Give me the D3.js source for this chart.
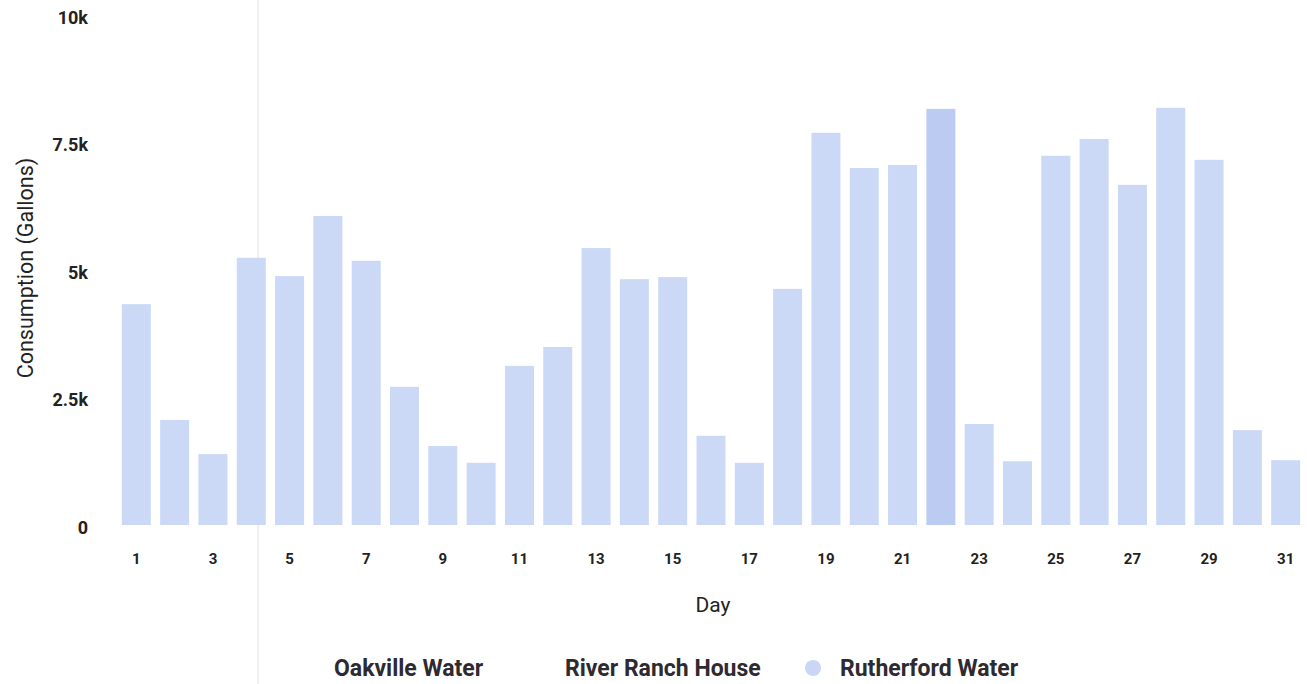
<!DOCTYPE html>
<html>
<head>
<meta charset="utf-8">
<script src="https://cdn.jsdelivr.net/npm/d3@7"></script>
<style>
	body { margin: 0; background: #fff; }
	svg { display: block; font-family: Roboto, 'Noto Sans', sans-serif; }
</style>
</head>
<body>
<svg id="canvas" width="1307" height="684"></svg>
<script>
const days = d3.range(1, 32);
// Rutherford Water daily consumption, in gallons
const rutherford = [4330, 2060, 1390, 5240, 4880, 6060, 5180, 2710, 1550, 1220,
	3120, 3490, 5430, 4820, 4860, 1750, 1220, 4630, 7690, 7000,
	7060, 8160, 1980, 1250, 7240, 7570, 6670, 8180, 7160, 1860, 1270];
const yTicks = [0, 2500, 5000, 7500, 10000];
const seriesNames = ['Oakville Water', 'River Ranch House', 'Rutherford Water'];
const activeDay = 22; // hovered bar

const svg = d3.select('#canvas');

const x = d3.scaleBand()
	.domain(days)
	.range([118, 1304])
	.paddingInner(0.243)
	.paddingOuter(0.1);

const y = d3.scaleLinear()
	.domain([0, 10000])
	.range([525, 15]);

// hover guide line
svg.append('line')
	.attr('x1', 258).attr('x2', 258)
	.attr('y1', 0).attr('y2', 684)
	.attr('stroke', '#ebebeb')
	.attr('stroke-width', 1.5);

svg.selectAll('rect.bar')
	.data(rutherford)
	.enter()
	.append('rect')
	.attr('class', 'bar')
	.attr('x', (d, i) => x(days[i]))
	.attr('y', (d) => y(d))
	.attr('width', x.bandwidth())
	.attr('height', (d) => y(0) - y(d))
	.attr('fill', (d, i) => days[i] === activeDay ? '#bccbf2' : '#cbd9f6');

// y axis
const fmt = (v) => v === 0 ? '0' : (v / 1000) + 'k';
const yAxis = svg.append('g')
	.attr('transform', 'translate(88,2)')
	.call(d3.axisLeft(y).tickValues(yTicks).tickFormat(fmt).tickSize(0).tickPadding(0));
yAxis.select('.domain').remove();
yAxis.selectAll('text')
	.attr('dy', '0.36em')
	.style('font-family', 'Roboto, sans-serif')
	.style('font-size', '18px')
	.style('font-weight', 'bold')
	.attr('fill', '#222');

// x axis
const xAxis = svg.append('g')
	.attr('transform', 'translate(0,553)')
	.call(d3.axisBottom(x).tickValues(days.filter((d) => d % 2 === 1)).tickSize(0).tickPadding(0));
xAxis.select('.domain').remove();
xAxis.selectAll('text')
	.style('font-family', 'Roboto, sans-serif')
	.style('font-size', '15px')
	.style('font-weight', 'bold')
	.attr('fill', '#222');

// axis titles
svg.append('text')
	.attr('x', 713).attr('y', 612)
	.attr('text-anchor', 'middle')
	.style('font-size', '21px')
	.attr('fill', '#222')
	.text('Day');

svg.append('text')
	.attr('transform', 'translate(33,268) rotate(-90)')
	.attr('text-anchor', 'middle')
	.style('font-size', '21.5px')
	.attr('fill', '#222')
	.text('Consumption (Gallons)');

// legend
const legendX = [334, 565, 840];
const legend = svg.selectAll('g.legend')
	.data(seriesNames)
	.enter()
	.append('g')
	.attr('class', 'legend')
	.attr('transform', (d, i) => `translate(${legendX[i]},668)`);

legend.filter((d, i) => i === 2)
	.append('circle')
	.attr('cx', -27).attr('cy', 0)
	.attr('r', 8)
	.attr('fill', '#c9d6f5');

legend.append('text')
	.attr('dy', '0.36em')
	.style('font-size', '23px')
	.style('font-weight', 'bold')
	.attr('fill', '#2e2a30')
	.text((d) => d);
</script>
</body>
</html>
